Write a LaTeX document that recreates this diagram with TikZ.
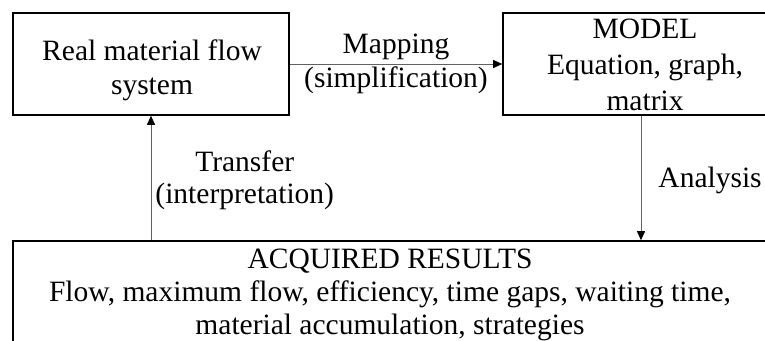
\documentclass[tikz,border=0pt]{standalone}
\usepackage{fontspec}
\setmainfont{Liberation Serif}
\usetikzlibrary{arrows.meta}
\begin{document}
\begin{tikzpicture}[x=1pt,y=-1pt,
  txt/.style={font=\fontsize{29.5}{34}\selectfont, align=center, inner sep=0pt},
  box/.style={draw=black, line width=1.6pt, inner sep=0pt},
  link/.style={draw=black!62, line width=0.9pt,
    -{Triangle[length=9pt,width=8pt,color=black]}}]
  \clip (0,0) rectangle (765,340);
  \fill[white] (0,0) rectangle (765,340);

  % the three blocks and their texts
  \node[box, minimum width=276pt, minimum height=102pt] (real) at (151,64) {};
  \node[txt] (realtext) at (152,70) {Real material flow\\system};

  \node[box, minimum width=276pt, minimum height=102pt] (model) at (641,64) {};
  \node[txt, font=\fontsize{29.5}{36}\selectfont] (modeltext) at (645,65)
    {MODEL\\Equation, graph,\\matrix};

  \node[box, minimum width=754pt, minimum height=109pt] (results) at (390,295.5) {};
  \node[txt, font=\fontsize{29.5}{33}\selectfont] (resultstext) at (390,295)
    {ACQUIRED RESULTS\\
     Flow, maximum flow, efficiency, time gaps, waiting time,\\
     material accumulation, strategies};

  % connectors (positive yshift points up here, since y runs downwards)
  \draw[link] (real) -- (model)
    node[midway, txt] {Mapping\\(simplification)};
  \draw[link] (model.south) -- (model.south |- results.north)
    node[midway, right=17pt, yshift=-2pt, txt] {Analysis};
  \draw[link] (real.south |- results.north) -- (real.south)
    node[midway, right=4pt, yshift=-2pt, txt, font=\fontsize{29.5}{32}\selectfont]
    {Transfer\\(interpretation)};
\end{tikzpicture}
\end{document}
